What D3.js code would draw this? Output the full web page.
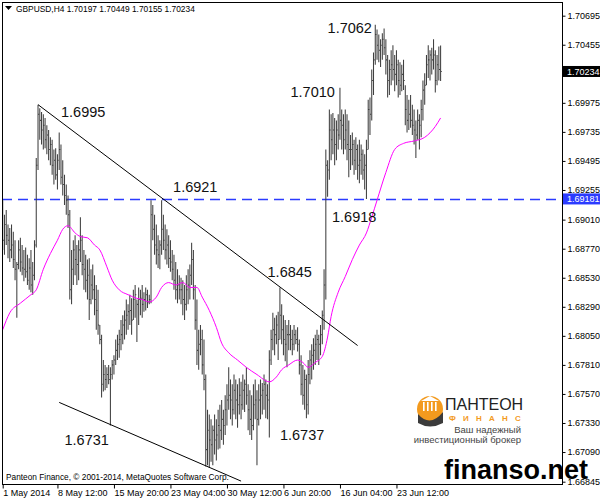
<!DOCTYPE html>
<html>
<head>
<meta charset="utf-8">
<script src="https://cdn.jsdelivr.net/npm/d3@7"></script>
<style>
  body { margin: 0; background: #fff; }
  svg text { font-family: "Liberation Sans", Arial, sans-serif; }
</style>
</head>
<body>
<script>
// GBPUSD H4 bars (high / low / close per bar)
var highs = [
  1.6917,1.6905,1.6909,1.6897,1.6894,1.6897,1.6891,1.6884,1.6866,1.6884,
  1.6886,1.6880,1.6876,1.6878,1.6872,1.6869,1.6876,1.6866,1.6884,1.6952,
  1.6996,1.6993,1.6990,1.6988,1.6985,1.6979,1.6975,1.6969,1.6967,1.6959,
  1.6960,1.6955,1.6973,1.6963,1.6950,1.6938,1.6930,1.6921,1.6909,1.6876,
  1.6884,1.6888,1.6880,1.6884,1.6903,1.6888,1.6876,1.6872,1.6868,1.6869,
  1.6860,1.6864,1.6855,1.6847,1.6843,1.6814,1.6806,1.6785,1.6781,1.6779,
  1.6781,1.6779,1.6785,1.6789,1.6802,1.6806,1.6810,1.6818,1.6822,1.6826,
  1.6835,1.6831,1.6839,1.6836,1.6843,1.6847,1.6835,1.6845,1.6843,1.6847,
  1.6841,1.6845,1.6843,1.6839,1.6917,1.6913,1.6905,1.6897,1.6888,1.6884,
  1.6917,1.6905,1.6897,1.6893,1.6888,1.6884,1.6876,1.6872,1.6866,1.6860,
  1.6855,1.6853,1.6851,1.6847,1.6855,1.6860,1.6864,1.6882,1.6876,1.6847,
  1.6835,1.6810,1.6814,1.6810,1.6802,1.6773,1.6744,1.6740,1.6736,1.6731,
  1.6740,1.6736,1.6744,1.6748,1.6752,1.6744,1.6756,1.6765,1.6779,1.6769,
  1.6765,1.6773,1.6769,1.6765,1.6770,1.6767,1.6773,1.6769,1.6779,1.6765,
  1.6760,1.6756,1.6765,1.6769,1.6760,1.6765,1.6769,1.6766,1.6773,1.6769,
  1.6765,1.6793,1.6810,1.6824,1.6820,1.6822,1.6825,1.6845,1.6831,1.6822,
  1.6818,1.6814,1.6818,1.6814,1.6810,1.6814,1.6810,1.6812,1.6802,1.6789,
  1.6781,1.6777,1.6773,1.6785,1.6793,1.6798,1.6803,1.6806,1.6810,1.6806,
  1.6814,1.6826,1.6860,1.6959,1.6950,1.6992,1.6988,1.6989,1.6985,1.6983,
  1.6988,1.7010,1.6992,1.6988,1.6992,1.6988,1.6983,1.6971,1.6973,1.6967,
  1.6969,1.6963,1.6967,1.6963,1.6959,1.6955,1.6967,1.7000,1.7002,1.7025,
  1.7039,1.7062,1.7058,1.7054,1.7050,1.7055,1.7059,1.7050,1.7037,1.7033,
  1.7041,1.7045,1.7037,1.7041,1.7033,1.7031,1.7029,1.7033,1.7012,1.7004,
  1.7000,1.7004,1.6996,1.6992,1.6983,1.6992,1.6988,1.7000,1.7016,1.7022,
  1.7037,1.7045,1.7041,1.7043,1.7050,1.7041,1.7037,1.7044,1.70449
];
var lows = [
  1.6876,1.6872,1.6880,1.6869,1.6866,1.6869,1.6861,1.6851,1.6820,1.6860,
  1.6858,1.6855,1.6850,1.6853,1.6847,1.6843,1.6841,1.6839,1.6851,1.6878,
  1.6942,1.6967,1.6963,1.6959,1.6960,1.6955,1.6950,1.6946,1.6938,1.6930,
  1.6934,1.6926,1.6942,1.6930,1.6921,1.6913,1.6905,1.6894,1.6835,1.6831,
  1.6847,1.6855,1.6847,1.6851,1.6866,1.6855,1.6843,1.6841,1.6835,1.6818,
  1.6831,1.6835,1.6822,1.6810,1.6806,1.6798,1.6754,1.6759,1.6760,1.6762,
  1.6765,1.6731,1.6769,1.6773,1.6781,1.6785,1.6787,1.6793,1.6798,1.6802,
  1.6806,1.6810,1.6814,1.6806,1.6818,1.6820,1.6800,1.6814,1.6822,1.6820,
  1.6825,1.6826,1.6828,1.6831,1.6832,1.6884,1.6872,1.6864,1.6861,1.6860,
  1.6872,1.6876,1.6868,1.6864,1.6861,1.6858,1.6851,1.6843,1.6835,1.6832,
  1.6835,1.6831,1.6822,1.6818,1.6826,1.6831,1.6835,1.6847,1.6835,1.6810,
  1.6781,1.6777,1.6789,1.6773,1.6760,1.6697,1.6698,1.6696,1.6701,1.6698,
  1.6707,1.6702,1.6711,1.6712,1.6719,1.6715,1.6723,1.6731,1.6744,1.6736,
  1.6731,1.6740,1.6736,1.6729,1.6740,1.6736,1.6744,1.6742,1.6748,1.6727,
  1.6723,1.6719,1.6727,1.6736,1.6698,1.6731,1.6736,1.6740,1.6744,1.6737,
  1.6736,1.6721,1.6781,1.6793,1.6789,1.6798,1.6785,1.6802,1.6798,1.6789,
  1.6784,1.6779,1.6793,1.6793,1.6789,1.6793,1.6798,1.6792,1.6773,1.6756,
  1.6748,1.6744,1.6737,1.6740,1.6765,1.6769,1.6777,1.6781,1.6785,1.6781,
  1.6789,1.6798,1.6810,1.6835,1.6920,1.6934,1.6950,1.6955,1.6946,1.6950,
  1.6959,1.6967,1.6959,1.6955,1.6959,1.6950,1.6936,1.6942,1.6946,1.6938,
  1.6942,1.6934,1.6931,1.6938,1.6934,1.6926,1.6918,1.6959,1.6971,1.6983,
  1.7004,1.7029,1.7033,1.7031,1.7027,1.7033,1.7037,1.7021,1.7002,1.7004,
  1.7012,1.7016,1.7007,1.7012,1.7002,1.7004,1.7007,1.7008,1.6979,1.6973,
  1.6975,1.6977,1.6971,1.6963,1.6952,1.6967,1.6959,1.6969,1.6983,1.6996,
  1.7012,1.7018,1.7016,1.7021,1.7025,1.7006,1.7012,1.7016,1.70155
];
var closes = [
  1.6884,1.6897,1.6888,1.6884,1.6876,1.6880,1.6868,1.6860,1.6864,1.6876,
  1.6866,1.6861,1.6860,1.6858,1.6851,1.6861,1.6847,1.6855,1.6880,1.6946,
  1.6988,1.6983,1.6975,1.6979,1.6967,1.6971,1.6959,1.6963,1.6946,1.6950,
  1.6938,1.6950,1.6959,1.6936,1.6930,1.6921,1.6917,1.6905,1.6843,1.6860,
  1.6876,1.6868,1.6864,1.6876,1.6884,1.6864,1.6860,1.6851,1.6855,1.6835,
  1.6847,1.6843,1.6835,1.6826,1.6814,1.6802,1.6765,1.6773,1.6769,1.6773,
  1.6769,1.6773,1.6781,1.6785,1.6793,1.6798,1.6802,1.6806,1.6814,1.6818,
  1.6822,1.6825,1.6826,1.6818,1.6835,1.6839,1.6831,1.6835,1.6836,1.6831,
  1.6835,1.6839,1.6833,1.6835,1.6905,1.6893,1.6880,1.6876,1.6872,1.6880,
  1.6893,1.6884,1.6876,1.6880,1.6869,1.6866,1.6860,1.6851,1.6843,1.6847,
  1.6843,1.6843,1.6835,1.6831,1.6843,1.6847,1.6855,1.6868,1.6843,1.6818,
  1.6793,1.6798,1.6802,1.6781,1.6769,1.6711,1.6727,1.6719,1.6715,1.6727,
  1.6719,1.6723,1.6731,1.6727,1.6736,1.6731,1.6744,1.6752,1.6756,1.6752,
  1.6744,1.6760,1.6752,1.6748,1.6756,1.6748,1.6760,1.6765,1.6756,1.6744,
  1.6736,1.6731,1.6748,1.6752,1.6736,1.6752,1.6756,1.6760,1.6765,1.6756,
  1.6752,1.6785,1.6802,1.6810,1.6806,1.6814,1.6802,1.6822,1.6810,1.6802,
  1.6798,1.6806,1.6806,1.6802,1.6798,1.6806,1.6802,1.6798,1.6781,1.6765,
  1.6756,1.6769,1.6748,1.6773,1.6785,1.6789,1.6793,1.6798,1.6802,1.6798,
  1.6806,1.6822,1.6847,1.6946,1.6942,1.6975,1.6967,1.6975,1.6963,1.6975,
  1.6971,1.6983,1.6979,1.6967,1.6975,1.6963,1.6959,1.6959,1.6963,1.6950,
  1.6959,1.6946,1.6950,1.6955,1.6942,1.6946,1.6959,1.6992,1.6988,1.7016,
  1.7033,1.7054,1.7045,1.7041,1.7045,1.7050,1.7043,1.7033,1.7016,1.7025,
  1.7029,1.7025,1.7021,1.7029,1.7016,1.7012,1.7021,1.7016,1.6992,1.6983,
  1.6988,1.6983,1.6979,1.6975,1.6971,1.6983,1.6979,1.6992,1.7008,1.7012,
  1.7029,1.7033,1.7037,1.7033,1.7037,1.7016,1.7029,1.7025,1.70234
];

// moving average (magenta), [bar, value]
var maPoints = [
  [0,1.6810],[4,1.6824],[10,1.6832],[16,1.6839],[19,1.6843],[23,1.6860],
  [27,1.6873],[31,1.6884],[34,1.6893],[37,1.6896],[41,1.6890],[44,1.6887],
  [48,1.6886],[52,1.6880],[55,1.6876],[59,1.6862],[62,1.6851],[66,1.6843],
  [71,1.6839],[76,1.6836],[79,1.6835],[83,1.6833],[87,1.6837],[90,1.6845],
  [94,1.6849],[98,1.6847],[102,1.6849],[106,1.6845],[110,1.6845],[113,1.6837],
  [117,1.6826],[121,1.6812],[124,1.6799],[128,1.6791],[133,1.6785],[138,1.6779],
  [144,1.6773],[151,1.6767],[155,1.6771],[158,1.6777],[162,1.6781],[167,1.6785],
  [170,1.6783],[173,1.6779],[177,1.6783],[181,1.6788],[184,1.6804],[186,1.6821],
  [190,1.6841],[194,1.6854],[198,1.6868],[202,1.6880],[206,1.6890],[209,1.6903],
  [212,1.6917],[217,1.6940],[222,1.6959],[227,1.6964],[233,1.6966],[239,1.6969],
  [245,1.6978],[248,1.6985]
];

var header = ["GBPUSD,H4", "1.70197", "1.70449", "1.70155", "1.70234"];
var priceTicks = [1.70695,1.70455,1.69975,1.69735,1.69495,1.69255,1.69010,1.68770,
                  1.68530,1.68290,1.68050,1.67810,1.67570,1.67330,1.67090,1.66845];
var timeTickBars = [0, 31, 63, 95, 127, 159, 191, 223];
var timeTickLabels = ["1 May 2014","8 May 12:00","15 May 20:00","23 May 04:00",
                      "30 May 12:00","6 Jun 20:00","16 Jun 04:00","23 Jun 12:00"];

var levelPrice = 1.69181;   // dashed blue line
var lastPrice = 1.70234;    // black price label

// hand drawn trend lines: [bar, price]
var trendUpper = [[20, 1.6996], [201, 1.6797]];
var trendLower = [[32, 1.6750], [135, 1.6685]];

// price notes written on the chart: text, bar, price
var notes = [
  ["1.6995", 33, 1.6986], ["1.6921", 96.5, 1.6924], ["1.6845", 150, 1.6854],
  ["1.7010", 163, 1.7002], ["1.7062", 184, 1.7055], ["1.6918", 186.5, 1.6899],
  ["1.6731", 35, 1.6715], ["1.6737", 157, 1.6719]
];

var W = 600, H = 500;
var plotL = 2, plotT = 2, plotR = 562, plotB = 484;

var svg = d3.select("body").append("svg")
  .attr("width", W)
  .attr("height", H);

var x = d3.scaleLinear().domain([0, 248]).range([2.7, 440.6]);
var y = d3.scaleLinear().domain([1.66826, 1.70808]).range([plotB, plotT]);

svg.append("clipPath").attr("id", "plot")
  .append("rect").attr("x", plotL).attr("y", plotT)
  .attr("width", plotR - plotL).attr("height", plotB - plotT);

var plot = svg.append("g").attr("clip-path", "url(#plot)");

// level line
var levelY = Math.round(y(levelPrice)) + 0.5;
plot.append("line")
  .attr("x1", plotL).attr("x2", plotR)
  .attr("y1", levelY).attr("y2", levelY)
  .attr("stroke", "#2b3bff")
  .attr("stroke-width", 1.4)
  .attr("stroke-dasharray", "10,6");

// bars
var n = Math.min(highs.length, lows.length, closes.length);
var bars = d3.range(n);
plot.append("g").selectAll("path")
  .data(bars)
  .enter()
  .append("path")
  .attr("d", function(i) {
    var bx = x(i);
    return "M" + bx + "," + y(highs[i]) + "V" + y(lows[i]) +
      "M" + bx + "," + y(closes[i]) + "h1.2";
  })
  .attr("fill", "none")
  .attr("stroke", "#404040")
  .attr("stroke-width", 1.05);

// moving average
var maLine = d3.line()
  .x(function(d) { return x(d[0]); })
  .y(function(d) { return y(d[1]); })
  .curve(d3.curveMonotoneX);
plot.append("path")
  .attr("d", maLine(maPoints))
  .attr("fill", "none")
  .attr("stroke", "#ff00ff")
  .attr("stroke-width", 1);

// trend lines
[trendUpper, trendLower].forEach(function(t) {
  plot.append("line")
    .attr("x1", x(t[0][0])).attr("y1", y(t[0][1]))
    .attr("x2", x(t[1][0])).attr("y2", y(t[1][1]))
    .attr("stroke", "#000")
    .attr("stroke-width", 1);
});

// notes
plot.append("g").selectAll("text")
  .data(notes)
  .enter()
  .append("text")
  .attr("x", function(d) { return x(d[1]); })
  .attr("y", function(d) { return y(d[2]); })
  .attr("font-size", "14.5px")
  .attr("fill", "#111")
  .text(function(d) { return d[0]; });

// logo
var logo = svg.append("g");
logo.append("circle").attr("cx", 430).attr("cy", 409).attr("r", 13).attr("fill", "#f39a1e");
logo.append("path").attr("d", "M418,414 Q430,428 443,412 L443,423 Q430,430 418,423 Z").attr("fill", "#3b3b3b");
logo.append("path").attr("d", "M421,401 L430,396 L439,401 Z").attr("fill", "#fff");
[423, 427, 431, 435].forEach(function(cx) {
  logo.append("rect").attr("x", cx).attr("y", 402).attr("width", 1.6).attr("height", 9).attr("fill", "#fff");
});
logo.append("text").attr("x", 445).attr("y", 410)
  .attr("font-size", "16px").attr("fill", "#222")
  .text("ПАНТЕОН");
logo.append("text").attr("x", 449).attr("y", 421)
  .attr("font-size", "8px").attr("letter-spacing", "7.2px").attr("fill", "#f39a1e").attr("font-weight", "bold")
  .text("ФИНАНС");
logo.append("text").attr("x", 521).attr("y", 433).attr("text-anchor", "end")
  .attr("font-size", "9.5px").attr("font-family", "Liberation Serif, serif").attr("fill", "#444")
  .text("Ваш надежный");
logo.append("text").attr("x", 521).attr("y", 443).attr("text-anchor", "end")
  .attr("font-size", "9.5px").attr("font-family", "Liberation Serif, serif").attr("fill", "#444")
  .text("инвестиционный брокер");

// frame
svg.append("rect")
  .attr("x", plotL + 0.5).attr("y", plotT + 0.5)
  .attr("width", plotR - plotL).attr("height", plotB - plotT)
  .attr("fill", "none").attr("stroke", "#000").attr("stroke-width", 1);

// header and copyright
svg.append("path").attr("d", "M5,6 h7 l-3.5,4 Z").attr("fill", "#000");
svg.append("text").attr("x", 16).attr("y", 12)
  .attr("font-size", "8.4px").attr("fill", "#000")
  .text(header[0] + "  " + header.slice(1).join(" "));
svg.append("text").attr("x", 6).attr("y", 480)
  .attr("font-size", "8.3px").attr("fill", "#000")
  .text("Panteon Finance, © 2001-2014, MetaQuotes Software Corp.");

// price axis
var yAxis = d3.axisRight(y)
  .tickValues(priceTicks)
  .tickSize(3)
  .tickPadding(2)
  .tickFormat(d3.format(".5f"));
var ya = svg.append("g").attr("transform", "translate(" + (plotR + 0.5) + ",0)").call(yAxis);
ya.select(".domain").remove();
ya.selectAll("text").attr("font-size", "9px").attr("font-family", "Liberation Sans, Arial, sans-serif").attr("fill", "#000");

// highlighted price labels
[[lastPrice, "#000"], [levelPrice, "#2b3bff"]].forEach(function(p) {
  svg.append("rect")
    .attr("x", plotR + 1).attr("y", y(p[0]) - 5.5)
    .attr("width", W - plotR - 1).attr("height", 11)
    .attr("fill", p[1]);
  svg.append("text")
    .attr("x", plotR + 5).attr("y", y(p[0]) + 3.5)
    .attr("font-size", "9px").attr("fill", "#fff")
    .text(d3.format(".5f")(p[0]));
});

// time axis
var xAxis = d3.axisBottom(x)
  .tickValues(timeTickBars)
  .tickSize(4)
  .tickFormat(function(d, i) { return timeTickLabels[i]; });
var xa = svg.append("g").attr("transform", "translate(0," + (plotB + 0.5) + ")").call(xAxis);
xa.select(".domain").remove();
xa.selectAll("text")
  .attr("font-size", "9px").attr("font-family", "Liberation Sans, Arial, sans-serif")
  .attr("fill", "#000").attr("text-anchor", "start").attr("dx", 0).attr("y", 5);

// watermark
svg.append("text").attr("x", 444).attr("y", 479)
  .attr("font-size", "27px").attr("font-weight", "bold").attr("fill", "#000")
  .text("finanso.net");
</script>
</body>
</html>
